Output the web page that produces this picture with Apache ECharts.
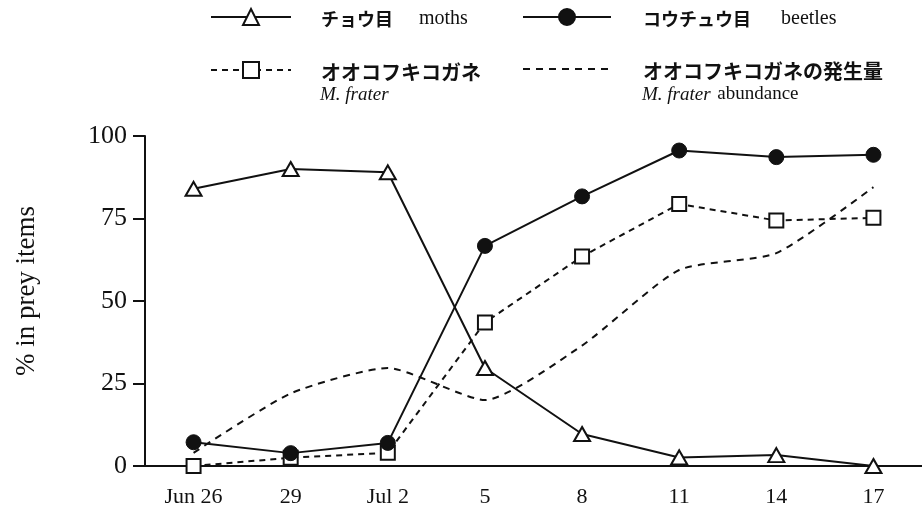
<!DOCTYPE html>
<html><head><meta charset="utf-8">
<script src="https://cdn.jsdelivr.net/npm/echarts@6/dist/echarts.min.js"></script>
<style>html,body{margin:0;padding:0;background:#fff}#c{width:922px;height:508px}</style>
</head><body><div id="c"></div>
<script>
const categories = ['Jun 26','29','Jul 2','5','8','11','14','17'];
const moths = [84, 90, 89, 29.7, 9.7, 2.6, 3.3, 0];
const beetles = [7.2, 3.9, 7, 66.7, 81.7, 95.6, 93.6, 94.3];
const frater = [0, 2.5, 4, 43.5, 63.5, 79.4, 74.4, 75.2];
const abundance = [4, 22, 29.7, 20, 36.5, 59.4, 64.5, 84.5];
const yTicks = [0, 25, 50, 75, 100];

const serif = 'Liberation Serif';
const cjk = 'Noto Sans CJK JP';
function richFor(jSize, gap) {
  return {
    j: {fontFamily: cjk, fontWeight: 'bold', fontSize: jSize, color: '#111'},
    e: {fontFamily: serif, fontSize: 20, color: '#111', padding: [0, 0, 0, gap]}
  };
}
function lg(name, label, left, top, w, padLeft, jSize, gap, extra) {
  return {
    data: [Object.assign({name: name}, extra || {})], left: left, top: top, padding: 0,
    itemWidth: w, itemHeight: 20,
    lineStyle: {width: 2},
    formatter: () => label, selectedMode: false,
    textStyle: {rich: richFor(jSize, gap), padding: [4, 0, 0, padLeft]}
  };
}
const chart = echarts.init(document.getElementById('c'));
chart.setOption({
  animation: false,
  backgroundColor: '#fff',
  grid: {left: 145, right: 0, top: 136, bottom: 42},
  legend: [
    lg('moths', '{j|チョウ目}{e|moths}', 210, 8, 80, 25, 18, 26),
    lg('beetles', '{j|コウチュウ目}{e|beetles}', 522, 8, 88, 27, 18, 30),
    lg('frater', '{j|オオコフキコガネ}', 210, 61, 80, 25, 20, 0),
    lg('abundance', '{j|オオコフキコガネの発生量}', 522, 61, 88, 27, 20, 0,
      {itemStyle: {color: 'transparent', borderColor: 'transparent', borderWidth: 0}})
  ],
  graphic: [
    {type: 'text', left: 320, top: 85, style: {text: 'M. frater', font: 'italic 19px "Liberation Serif"', fill: '#111'}},
    {type: 'text', left: 642, top: 85, style: {text: '{i|M. frater}  {n|abundance}', fill: '#111',
      rich: {i: {fontFamily: serif, fontStyle: 'italic', fontSize: 19, color: '#111'},
             n: {fontFamily: serif, fontSize: 19, color: '#111'}}}},
    {type: 'text', x: 27, y: 291, rotation: Math.PI / 2,
      style: {text: '% in prey items', font: '27px "Liberation Serif"', fill: '#111',
        align: 'center', verticalAlign: 'middle'}}
  ],
  xAxis: {
    type: 'category', data: categories, boundaryGap: true,
    axisLine: {lineStyle: {color: '#111', width: 2}},
    axisTick: {alignWithLabel: true, length: 8, lineStyle: {color: '#111', width: 2}},
    axisLabel: {fontFamily: serif, fontSize: 22, color: '#111', margin: 20, interval: 0}
  },
  yAxis: {
    type: 'value', min: 0, max: 100, interval: 25,
    axisLine: {show: true, lineStyle: {color: '#111', width: 2}},
    axisTick: {show: true, length: 12, lineStyle: {color: '#111', width: 2}},
    axisLabel: {fontFamily: serif, fontSize: 26, color: '#111', margin: 18,
      formatter: v => yTicks.includes(v) ? String(v) : ''},
    splitLine: {show: false}
  },
  series: [
    {name: 'abundance', type: 'line', data: abundance, smooth: 0.2, showSymbol: false, symbol: 'none',
      lineStyle: {color: '#111', width: 2, type: [7, 6]}, itemStyle: {color: '#111'}, z: 1},
    {name: 'frater', type: 'line', data: frater, symbol: 'rect', symbolSize: 14,
      lineStyle: {color: '#111', width: 2, type: [6, 5]},
      itemStyle: {color: '#fff', borderColor: '#111', borderWidth: 2}, z: 2},
    {name: 'moths', type: 'line', data: moths, symbol: 'triangle', symbolSize: [16, 14],
      lineStyle: {color: '#111', width: 2},
      itemStyle: {color: '#fff', borderColor: '#111', borderWidth: 2}, z: 3},
    {name: 'beetles', type: 'line', data: beetles, symbol: 'circle', symbolSize: 15,
      lineStyle: {color: '#111', width: 2},
      itemStyle: {color: '#111', borderColor: '#111', borderWidth: 1}, z: 4}
  ]
});
</script></body></html>
